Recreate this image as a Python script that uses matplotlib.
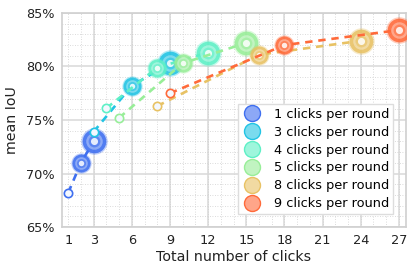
import matplotlib
matplotlib.use("Agg")
import matplotlib.pyplot as plt
from matplotlib.lines import Line2D
from matplotlib.ticker import MultipleLocator, FuncFormatter

labels = ["1 clicks per round", "3 clicks per round", "4 clicks per round",
          "5 clicks per round", "8 clicks per round", "9 clicks per round"]
clicks_1 = [1, 2, 3]
miou_1 = [68.2, 71.0, 73.0]
clicks_3 = [3, 6, 9]
miou_3 = [73.9, 78.2, 80.3]
clicks_4 = [4, 8, 12]
miou_4 = [76.1, 79.9, 81.3]
clicks_5 = [5, 10, 15]
miou_5 = [75.2, 80.3, 82.2]
clicks_8 = [8, 16, 24]
miou_8 = [76.3, 81.1, 82.4]
clicks_9 = [9, 18, 27]
miou_9 = [77.5, 82.0, 83.4]
xtick_vals = [1, 3, 6, 9, 12, 15, 18, 21, 24, 27]

colors = ["#3f6ff0", "#22c4e4", "#5ef0c6", "#98ee98", "#e8c264", "#ff6a3a"]
series = [(clicks_1, miou_1), (clicks_3, miou_3), (clicks_4, miou_4),
          (clicks_5, miou_5), (clicks_8, miou_8), (clicks_9, miou_9)]

# marker diameter in points for round 1, 2, 3
diam = [6.0, 13.0, 17.0]

fig = plt.figure(figsize=(4.15, 2.7), dpi=100)
ax = fig.add_axes([0.149, 0.159, 0.829, 0.793])

z = 3
for (xs, ys), c in zip(series, colors):
    ax.plot(xs, ys, color=c, lw=1.9, ls=(0, (2.8, 2.2)), zorder=z)
    for i, (xv, yv) in enumerate(zip(xs, ys)):
        d = diam[i]
        if i == 0:
            ax.scatter([xv], [yv], s=d**2, facecolor="#f4f8ff", edgecolor=c,
                       linewidth=1.2, zorder=z + 1)
        else:
            ax.scatter([xv], [yv], s=(d * 1.12)**2, color=c, alpha=0.35, lw=0, zorder=z + 1)
            ax.scatter([xv], [yv], s=d**2, color=c, alpha=0.85, lw=0, zorder=z + 1)
            ax.scatter([xv], [yv], s=(d * 0.7)**2, color="white", alpha=0.35, lw=0, zorder=z + 1)
            ax.scatter([xv], [yv], s=(d * 0.5)**2, color=c, alpha=0.6, lw=0, zorder=z + 1)
            ax.scatter([xv], [yv], s=(d * 0.3)**2, color="white", alpha=0.85, lw=0, zorder=z + 1)
    z += 2

ax.set_xlim(0.5, 27.55)
ax.set_ylim(65, 85)
ax.set_xticks(xtick_vals)
ax.xaxis.set_minor_locator(MultipleLocator(1))
ax.yaxis.set_major_locator(MultipleLocator(5))
ax.yaxis.set_minor_locator(MultipleLocator(1))
ax.yaxis.set_major_formatter(FuncFormatter(lambda v, p: "%d%%" % v))
ax.xaxis.remove_overlapping_locs = False

ax.grid(which="major", color="#d9d9d9", lw=1.1)
ax.grid(which="minor", color="#cfcfcf", lw=0.6, ls=(0, (1, 2)))
ax.xaxis.get_gridlines()[0].set_visible(False)
ax.set_axisbelow(True)
ax.tick_params(which="both", length=0, labelsize=9.3, colors="#222222", pad=5)
for s in ax.spines.values():
    s.set_color("#d0d0d0")
    s.set_linewidth(1.2)

ax.set_xlabel("Total number of clicks", fontsize=10.2, color="#222222", labelpad=2)
ax.set_ylabel("mean IoU", fontsize=10.2, color="#222222", labelpad=5)

handles = [Line2D([], [], ls="", marker="o", markersize=11.5,
                  markerfacecolor=matplotlib.colors.to_rgba(c, 0.6),
                  markeredgecolor=c) for c in colors]
ax.legend(handles, labels, loc="lower right", fontsize=9.3, frameon=True,
          framealpha=1, edgecolor="#dddddd", fancybox=False,
          handlelength=1.6, handletextpad=0.9, labelspacing=0.38, borderpad=0.3,
          bbox_to_anchor=(0.982, 0.03))

fig.savefig("out.png", dpi=100)
